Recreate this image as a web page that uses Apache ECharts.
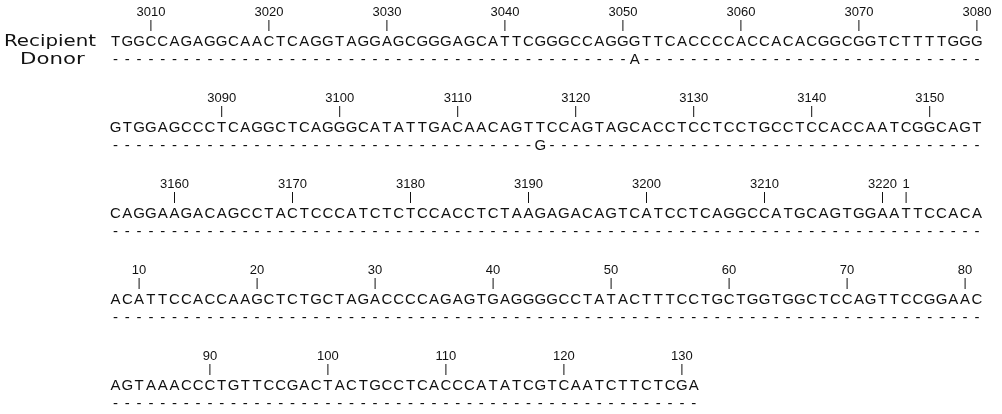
<!DOCTYPE html>
<html>
<head>
<meta charset="utf-8">
<script src="https://cdn.jsdelivr.net/npm/echarts@6/dist/echarts.min.js"></script>
<style>
html,body{margin:0;padding:0;background:#fff;}
#chart{width:1002px;height:414px;}
</style>
</head>
<body>
<div id="chart"></div>
<script>
// ---- data ----
const recipientRows = [
  "TGGCCAGAGGCAACTCAGGTAGGAGCGGGAGCATTCGGGCCAGGGTTCACCCCACCACACGGCGGTCTTTTGGG",
  "GTGGAGCCCTCAGGCTCAGGGCATATTGACAACAGTTCCAGTAGCACCTCCTCCTGCCTCCACCAATCGGCAGT",
  "CAGGAAGACAGCCTACTCCCATCTCTCCACCTCTAAGAGACAGTCATCCTCAGGCCATGCAGTGGAATTCCACA",
  "ACATTCCACCAAGCTCTGCTAGACCCCAGAGTGAGGGGCCTATACTTTCCTGCTGGTGGCTCCAGTTCCGGAAC",
  "AGTAAACCCTGTTCCGACTACTGCCTCACCCATATCGTCAATCTTCTCGA"
];
// donor differences: [row index, column (1-based) in row, base]
const donorDifferences = [
  [0, 45, "A"],
  [1, 37, "G"]
];
const tickLabels = [
  ["3010","3020","3030","3040","3050","3060","3070","3080"],
  ["3090","3100","3110","3120","3130","3140","3150"],
  ["3160","3170","3180","3190","3200","3210","3220","1"],
  ["10","20","30","40","50","60","70","80"],
  ["90","100","110","120","130"]
];
const tickColumns = [
  [4,14,24,34,44,54,64,74],
  [10,20,30,40,50,60,70],
  [6,16,26,36,46,56,66,68],
  [3,13,23,33,43,53,63,73],
  [9,19,29,39,49]
];
const rowNames = ["Recipient", "Donor"];

// ---- build series data ----
const recData = [];
const donData = [];
recipientRows.forEach((s, r) => {
  for (let i = 0; i < s.length; i++) {
    recData.push([i + 1, r, s[i]]);
    let ch = "-";
    donorDifferences.forEach(d => { if (d[0] === r && d[1] === i + 1) ch = d[2]; });
    donData.push([i + 1, r, ch]);
  }
});
const tickData = [];
tickLabels.forEach((labels, r) => {
  labels.forEach((lab, k) => tickData.push([tickColumns[r][k], r, lab]));
});

const FONT_SEQ = '15px "Liberation Sans", Arial, sans-serif';
const FONT_NUM = '13px "Liberation Sans", Arial, sans-serif';
const FONT_LAB = '15px "DejaVu Sans", sans-serif';
const INK = '#111';

function textItem(x, y, str, font) {
  return {
    type: 'text',
    style: { x: x, y: y, text: str, font: font, fill: INK, align: 'center', verticalAlign: 'middle' }
  };
}

const chart = echarts.init(document.getElementById('chart'), null, { renderer: 'canvas' });
chart.setOption({
  backgroundColor: '#fff',
  animation: false,
  grid: { left: 109.6, width: 873.2, top: 42, bottom: 28, containLabel: false },
  xAxis: { type: 'value', min: 0.5, max: 74.5, show: false },
  yAxis: { type: 'value', min: 0, max: 4, inverse: true, show: false },
  graphic: [
    { type: 'text', x: 4, y: 42, scaleX: 1.32,
      style: { text: rowNames[0], font: FONT_LAB, fill: INK, align: 'left', verticalAlign: 'middle' } },
    { type: 'text', x: 20, y: 60, scaleX: 1.42,
      style: { text: rowNames[1], font: FONT_LAB, fill: INK, align: 'left', verticalAlign: 'middle' } }
  ],
  series: [
    {
      type: 'custom', name: 'Recipient', data: recData,
      renderItem: (params, api) => {
        const p = api.coord([api.value(0), api.value(1)]);
        return textItem(p[0], p[1], recData[params.dataIndex][2], FONT_SEQ);
      }
    },
    {
      type: 'custom', name: 'Donor', data: donData,
      renderItem: (params, api) => {
        const p = api.coord([api.value(0), api.value(1)]);
        return textItem(p[0], p[1] + 18, donData[params.dataIndex][2], FONT_SEQ);
      }
    },
    {
      type: 'custom', name: 'Ticks', data: tickData,
      renderItem: (params, api) => {
        const p = api.coord([api.value(0), api.value(1)]);
        return {
          type: 'group',
          children: [
            { type: 'line', shape: { x1: p[0], y1: p[1] - 22, x2: p[0], y2: p[1] - 11 }, style: { stroke: INK, lineWidth: 1 } },
            textItem(p[0], p[1] - 29.5, tickData[params.dataIndex][2], FONT_NUM)
          ]
        };
      }
    }
  ]
});
</script>
</body>
</html>
